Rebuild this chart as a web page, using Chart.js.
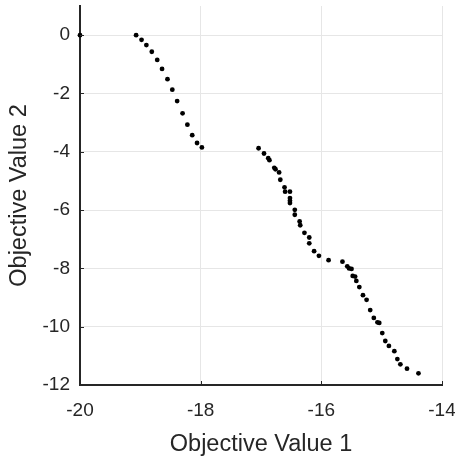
<!DOCTYPE html>
<html>
<head>
<meta charset="utf-8">
<script src="https://cdn.jsdelivr.net/npm/chart.js@4"></script>
<style>
  html, body { margin: 0; padding: 0; background: #fff; }
  #wrap { width: 455px; height: 459px; }
</style>
</head>
<body>
<div id="wrap"><canvas id="chart1"></canvas></div>
<script>
// pareto front: objective 1 vs objective 2
let obj1 = [
  -20, -19.07, -18.98, -18.90, -18.81, -18.72, -18.64, -18.55, -18.47, -18.39,
  -18.30, -18.22, -18.14, -18.06, -17.98, -17.04, -16.95, -16.88, -16.86, -16.78,
  -16.76, -16.70, -16.68, -16.61, -16.60, -16.52, -16.52, -16.52, -16.52, -16.44,
  -16.44, -16.36, -16.35, -16.28, -16.20, -16.20, -16.12, -16.04, -15.88, -15.65,
  -15.57, -15.54, -15.50, -15.48, -15.44, -15.42, -15.37, -15.31, -15.25, -15.19,
  -15.13, -15.07, -15.04, -14.99, -14.94, -14.88, -14.79, -14.74, -14.69, -14.58,
  -14.39
];
let obj2 = [
  0, 0, -0.16, -0.34, -0.57, -0.85, -1.16, -1.51, -1.87, -2.26,
  -2.68, -3.07, -3.43, -3.70, -3.85, -3.88, -4.06, -4.22, -4.29, -4.55,
  -4.60, -4.71, -4.96, -5.22, -5.37, -5.37, -5.59, -5.68, -5.76, -5.99,
  -6.16, -6.39, -6.52, -6.78, -6.94, -7.14, -7.41, -7.57, -7.72, -7.77,
  -7.93, -8.00, -8.02, -8.26, -8.28, -8.43, -8.64, -8.92, -9.08, -9.43,
  -9.70, -9.85, -9.87, -10.22, -10.49, -10.66, -10.84, -11.11, -11.29, -11.44,
  -11.60
];

let xTicks = [-20, -18, -16, -14];
let yTicks = [0, -2, -4, -6, -8, -10, -12];

let points = obj1.map((x, i) => ({ x: x, y: obj2[i] }));

let ink = '#262626';
let font = 'Liberation Sans, Arial, Helvetica, sans-serif';

// short inward tick marks like matlab axes
let inwardTicks = {
  id: 'inwardTicks',
  afterDatasetsDraw(chart) {
    let ctx = chart.ctx;
    let xs = chart.scales.x, ys = chart.scales.y;
    let len = 4;
    ctx.save();
    ctx.strokeStyle = ink;
    ctx.lineWidth = 1;
    ctx.beginPath();
    xTicks.forEach(v => {
      let px = Math.round(xs.getPixelForValue(v)) + 0.5;
      ctx.moveTo(px, ys.bottom);
      ctx.lineTo(px, ys.bottom - len);
    });
    yTicks.forEach(v => {
      let py = Math.round(ys.getPixelForValue(v)) + 0.5;
      ctx.moveTo(xs.left, py);
      ctx.lineTo(xs.left + len, py);
    });
    ctx.stroke();
    ctx.restore();
  }
};

let options = {
  type: 'scatter',
  data: {
    datasets: [{
      data: points,
      backgroundColor: '#000',
      borderColor: '#000',
      pointRadius: 2.4,
      pointHoverRadius: 2.4,
      borderWidth: 0,
      clip: false
    }]
  },
  options: {
    responsive: true,
    maintainAspectRatio: false,
    animation: false,
    events: [],
    layout: { padding: { top: 6, right: 13, left: 0, bottom: 0 } },
    plugins: {
      legend: { display: false },
      tooltip: { enabled: false }
    },
    scales: {
      x: {
        type: 'linear',
        min: -20,
        max: -14,
        afterBuildTicks: s => { s.ticks = xTicks.map(v => ({ value: v })); },
        afterFit: s => { s.height = 74; s.paddingLeft = 0; s.paddingRight = 0; },
        grid: { color: '#e6e6e6', lineWidth: 1, drawTicks: false },
        border: { color: ink, width: 2 },
        ticks: { color: ink, padding: 14, font: { family: font, size: 19 }, maxRotation: 0 },
        title: { display: true, text: 'Objective Value 1', color: ink, font: { family: font, size: 23.5 }, padding: { top: 5, bottom: 0 } }
      },
      y: {
        type: 'linear',
        min: -12,
        max: 1,
        afterBuildTicks: s => { s.ticks = yTicks.map(v => ({ value: v })); },
        afterFit: s => { s.width = 80; s.paddingTop = 0; s.paddingBottom = 0; },
        grid: { color: '#e6e6e6', lineWidth: 1, drawTicks: false },
        border: { color: ink, width: 2 },
        ticks: { color: ink, padding: 10, font: { family: font, size: 19 } },
        title: { display: true, text: 'Objective Value 2', color: ink, font: { family: font, size: 23.5 }, padding: { top: 5, bottom: 0 } }
      }
    }
  },
  plugins: [inwardTicks]
};

let chart = new Chart(document.getElementById('chart1'), options);
</script>
</body>
</html>
